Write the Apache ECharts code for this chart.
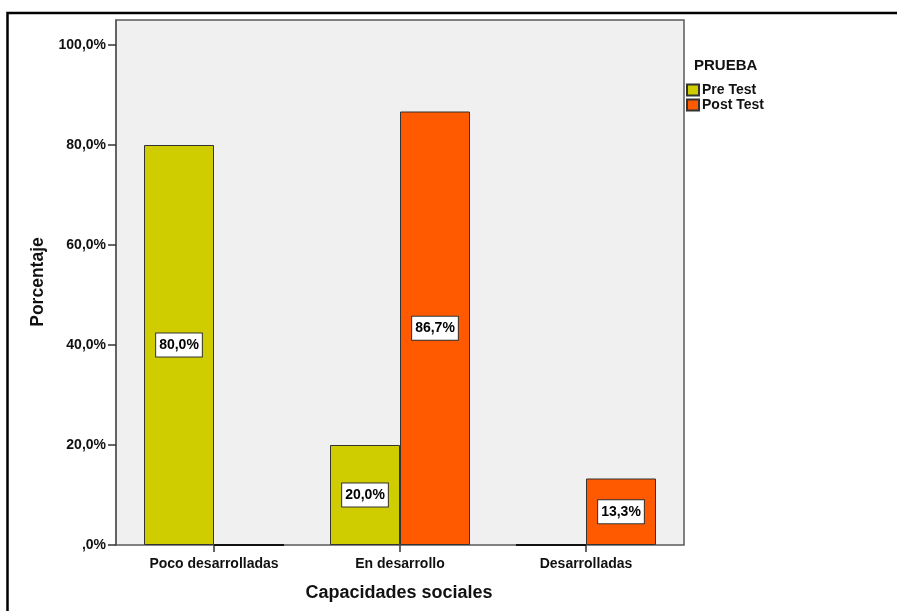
<!DOCTYPE html>
<html>
<head>
<meta charset="utf-8">
<script src="https://cdn.jsdelivr.net/npm/echarts@6/dist/echarts.min.js"></script>
<style>
html,body{margin:0;padding:0;background:#fff;}
#chart{width:897px;height:611px;}
</style>
</head>
<body>
<div id="chart"></div>
<script>
var categories = ['Poco desarrolladas', 'En desarrollo', 'Desarrolladas'];
var seriesNames = ['Pre Test', 'Post Test'];
var preTest = [80.0, 20.0, 0];
var postTest = [0, 86.7, 13.3];
var yTickValues = [0, 20, 40, 60, 80, 100];
var yTickLabels = [',0%', '20,0%', '40,0%', '60,0%', '80,0%', '100,0%'];

var FONT = "'Liberation Sans', Arial, sans-serif";

function fmt(v) {
  return v.toFixed(1).replace('.', ',') + '%';
}
function toData(arr) {
  return arr.map(function (v) {
    var d = { value: v, label: { show: v > 0 } };
    if (v === 0) {
      d.itemStyle = { borderColor: '#111', borderWidth: 2 };
    }
    return d;
  });
}
var labelStyle = {
  show: true,
  position: 'inside',
  formatter: function (p) { return fmt(p.value); },
  backgroundColor: '#ffffff',
  borderColor: '#333333',
  borderWidth: 1,
  padding: [5, 3, 4, 3],
  color: '#000',
  fontFamily: FONT,
  fontWeight: 'bold',
  fontSize: 14
};

var chart = echarts.init(document.getElementById('chart'), null, { renderer: 'canvas' });
chart.setOption({
  animation: false,
  backgroundColor: '#ffffff',
  textStyle: { fontFamily: FONT },
  grid: [
    { left: 116, top: 20, width: 568, height: 525, show: true,
      backgroundColor: '#f0f0f0', borderColor: '#5a5a5a', borderWidth: 1.5 },
    { left: 121, top: 20, width: 558, height: 525 }
  ],
  xAxis: [
    { gridIndex: 0, type: 'value', show: false },
    { gridIndex: 1, type: 'category', data: categories,
      axisLine: { show: false },
      axisTick: { show: true, alignWithLabel: true, length: 7,
        lineStyle: { color: '#333', width: 1.5 } },
      axisLabel: { margin: 12, color: '#111', fontFamily: FONT,
        fontWeight: 'bold', fontSize: 14 } }
  ],
  yAxis: [
    { gridIndex: 0, type: 'value', min: 0, max: 105,
      splitLine: { show: false },
      axisLine: { show: true, lineStyle: { color: '#5a5a5a', width: 1.5 } },
      axisTick: { show: true, length: 8, customValues: yTickValues,
        lineStyle: { color: '#333', width: 1.5 } },
      axisLabel: { show: true, customValues: yTickValues, margin: 10,
        color: '#111', fontFamily: FONT, fontWeight: 'bold', fontSize: 14,
        formatter: function (v) {
          var i = yTickValues.indexOf(v);
          return i >= 0 ? yTickLabels[i] : '';
        } } },
    { gridIndex: 1, type: 'value', min: 0, max: 105, show: false,
      splitLine: { show: false } }
  ],
  legend: {
    show: true,
    data: seriesNames,
    orient: 'vertical',
    left: 686,
    top: 83,
    padding: 0,
    icon: 'rect',
    itemWidth: 12,
    itemHeight: 11,
    itemGap: 1,
    textStyle: { color: '#111', fontFamily: FONT, fontWeight: 'bold', fontSize: 14,
      padding: [0, 0, 0, -2] }
  },
  series: [
    { name: seriesNames[0], type: 'bar', xAxisIndex: 1, yAxisIndex: 1,
      data: toData(preTest), barWidth: 70, barGap: '0%',
      itemStyle: { color: '#cfcc00', borderColor: '#333333', borderWidth: 1 },
      label: labelStyle },
    { name: seriesNames[1], type: 'bar', xAxisIndex: 1, yAxisIndex: 1,
      data: toData(postTest), barWidth: 70, barGap: '0%',
      itemStyle: { color: '#ff5a00', borderColor: '#333333', borderWidth: 1 },
      label: labelStyle }
  ],
  graphic: [
    { type: 'polyline', silent: true,
      shape: { points: [[7.5, 640], [7.5, 13], [900, 13]] },
      style: { stroke: '#000', lineWidth: 2.5, fill: null } },
    { type: 'text', left: 694, top: 58,
      style: { text: 'PRUEBA', fill: '#111', font: 'bold 15px ' + FONT } },
    { type: 'text', x: 38, y: 282, rotation: Math.PI / 2,
      style: { text: 'Porcentaje', fill: '#111', font: 'bold 17.5px ' + FONT,
        align: 'center', verticalAlign: 'middle' } },
    { type: 'text', x: 399, y: 593,
      style: { text: 'Capacidades sociales', fill: '#111', font: 'bold 18px ' + FONT,
        align: 'center', verticalAlign: 'middle' } }
  ]
});
</script>
</body>
</html>
